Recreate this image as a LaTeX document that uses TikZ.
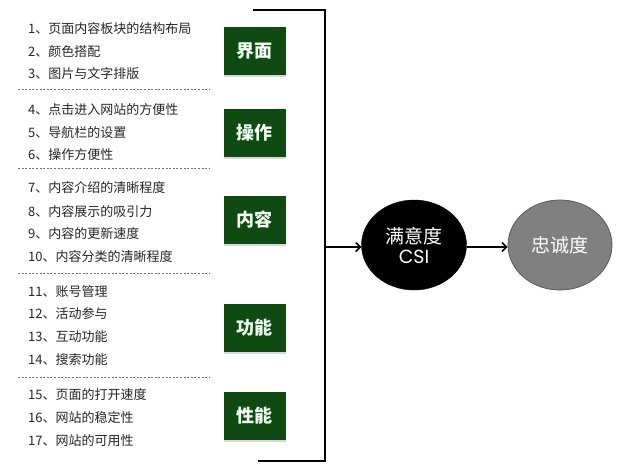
\documentclass[tikz,border=0pt]{standalone}
\usepackage{fontspec}
\setmainfont{Noto Sans CJK SC}
\newfontfamily\csifont{Poppins}
\usetikzlibrary{arrows.meta,shapes.geometric,shadows}
\definecolor{boxgreen}{HTML}{0E4A12}
\definecolor{itemtext}{HTML}{262626}
\definecolor{loyalgray}{HTML}{808080}
\begin{document}
\begin{tikzpicture}[x=1pt,y=-1pt,
  item/.style={anchor=west,inner sep=0pt,text=itemtext,font=\fontsize{13}{14}\selectfont},
  sep/.style={draw=black!55,dashed,dash pattern=on 2pt off 1.6pt,line width=0.8pt},
  catbox/.style={fill=boxgreen,minimum width=62pt,minimum height=48pt,inner sep=0pt,
    text=white!94!green,font=\fontsize{18}{20}\selectfont\bfseries,
    drop shadow={shadow xshift=0.5pt,shadow yshift=-2pt,fill=black!25,opacity=0.6}},
  bracket/.style={line width=2.6pt,line join=miter},
  arr/.style={line width=1.5pt,-{Straight Barb[length=4.5pt,width=9pt,line width=1.5pt]}},
  csi/.style={ellipse,fill=black,draw=black,minimum width=105pt,minimum height=90pt,inner sep=0pt,
    text=white,font=\fontsize{19}{22}\selectfont,align=center},
  loyal/.style={ellipse,fill=loyalgray,draw=black!65,line width=0.8pt,minimum width=104pt,minimum height=90pt,inner sep=0pt,
    text=white,font=\fontsize{19}{22}\selectfont}
]
\useasboundingbox (0,0) rectangle (636,472);
\fill[white] (0,0) rectangle (636,472);

% list items
\node[item] (i1) at (28,29) {1、页面内容板块的结构布局};
\node[item] (i2) at (28,52) {2、颜色搭配};
\node[item] (i3) at (28,74) {3、图片与文字排版};
\node[item] (i4) at (28,110) {4、点击进入网站的方便性};
\node[item] (i5) at (28,133) {5、导航栏的设置};
\node[item] (i6) at (28,155) {6、操作方便性};
\node[item] (i7) at (28,188) {7、内容介绍的清晰程度};
\node[item] (i8) at (28,212) {8、内容展示的吸引力};
\node[item] (i9) at (28,234) {9、内容的更新速度};
\node[item] (i10) at (28,257) {10、内容分类的清晰程度};
\node[item] (i11) at (28,292) {11、账号管理};
\node[item] (i12) at (28,314) {12、活动参与};
\node[item] (i13) at (28,337) {13、互动功能};
\node[item] (i14) at (28,360) {14、搜索功能};
\node[item] (i15) at (28,395) {15、页面的打开速度};
\node[item] (i16) at (28,418) {16、网站的稳定性};
\node[item] (i17) at (28,441) {17、网站的可用性};

% dashed separators
\draw[sep] (18,89) -- (210,89);
\draw[sep] (18,168) -- (210,168);
\draw[sep] (18,273) -- (210,273);
\draw[sep] (18,377) -- (210,377);

% category boxes
\node[catbox] (b1) at (254.5,51) {界面};
\node[catbox] (b2) at (254.5,132.5) {操作};
\node[catbox] (b3) at (254.5,220) {内容};
\node[catbox] (b4) at (254.5,327.5) {功能};
\node[catbox] (b5) at (254.5,416) {性能};

% bracket
\coordinate (btl) at (253,10);
\coordinate (btr) at (325,10);
\coordinate (bbr) at (325,461);
\coordinate (bbl) at (258,461);
\coordinate (bmid) at (325,247);
\draw[bracket] (btl) -- (btr) -- (bbr) -- (bbl);

% ellipses
\node[csi] (csi) at (414,245) {满意度\\[-2pt]{\csifont CSI}};
\node[loyal] (loy) at (560,245) {忠诚度};

% arrows
\draw[arr] (bmid) -- (bmid -| csi.west);
\draw[arr] (csi.east |- bmid) -- (loy.west |- bmid);
\end{tikzpicture}
\end{document}
